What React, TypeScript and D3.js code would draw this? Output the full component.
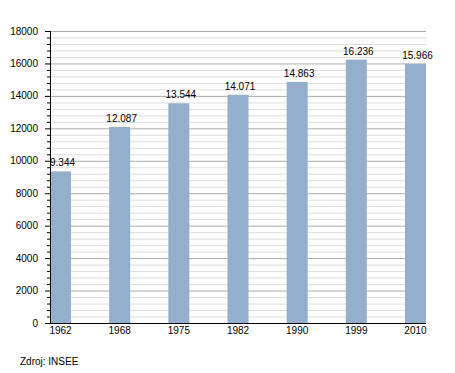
import React, { useEffect, useRef } from 'react';
import * as d3 from 'd3';

const years = ['1962', '1968', '1975', '1982', '1990', '1999', '2010'];
const population = [9344, 12087, 13544, 14071, 14863, 16236, 15966];
const valueLabels = ['9.344', '12.087', '13.544', '14.071', '14.863', '16.236', '15.966'];
const majorTicks = [0, 2000, 4000, 6000, 8000, 10000, 12000, 14000, 16000, 18000];
const sourceNote = 'Zdroj: INSEE';

const App = () => {
  const ref = useRef<SVGSVGElement>(null);

  useEffect(() => {
    const svg = d3.select(ref.current);
    svg.selectAll('*').remove();

    const left = 50;
    const right = 426;
    const top = 31;
    const bottom = 323;
    const font = 'Liberation Sans, Arial, sans-serif';

    const x = d3.scaleBand<string>()
      .domain(years)
      .range([left, right])
      .paddingInner(0.645)
      .paddingOuter(0);

    const y = d3.scaleLinear()
      .domain([0, 18000])
      .range([bottom, top]);

    const minorTicks = d3.range(0, 18001, 400).filter(v => v % 2000 !== 0);

    // grid
    svg.append('g')
      .selectAll('line')
      .data(minorTicks)
      .enter()
      .append('line')
      .attr('x1', left)
      .attr('x2', right)
      .attr('y1', d => y(d) + 0.5)
      .attr('y2', d => y(d) + 0.5)
      .attr('stroke', '#dddddd')
      .attr('stroke-width', 1);

    svg.append('g')
      .selectAll('line')
      .data(majorTicks.filter(v => v > 0))
      .enter()
      .append('line')
      .attr('x1', left)
      .attr('x2', right)
      .attr('y1', d => y(d) + 0.5)
      .attr('y2', d => y(d) + 0.5)
      .attr('stroke', '#aaaaaa')
      .attr('stroke-width', 1);

    // bars
    svg.append('g')
      .selectAll('rect')
      .data(population)
      .enter()
      .append('rect')
      .attr('x', (d, i) => x(years[i]) as number)
      .attr('y', d => y(d))
      .attr('width', x.bandwidth())
      .attr('height', d => bottom - y(d))
      .attr('fill', '#93afcb');

    // value labels
    svg.append('g')
      .selectAll('text')
      .data(population)
      .enter()
      .append('text')
      .attr('x', (d, i) => (x(years[i]) as number) + x.bandwidth() / 2 + 2)
      .attr('y', d => y(d) - 5)
      .attr('text-anchor', 'middle')
      .attr('font-family', font)
      .attr('font-size', 10)
      .attr('fill', '#000')
      .text((d, i) => valueLabels[i]);

    // y axis
    const yAxis = svg.append('g');
    yAxis.append('line')
      .attr('x1', left + 0.5).attr('x2', left + 0.5)
      .attr('y1', top).attr('y2', bottom + 1)
      .attr('stroke', '#000');
    yAxis.selectAll('.minor')
      .data(minorTicks)
      .enter()
      .append('line')
      .attr('x1', left - 3).attr('x2', left)
      .attr('y1', d => y(d) + 0.5).attr('y2', d => y(d) + 0.5)
      .attr('stroke', '#000');
    yAxis.selectAll('.major')
      .data(majorTicks)
      .enter()
      .append('line')
      .attr('x1', left - 5).attr('x2', left)
      .attr('y1', d => y(d) + 0.5).attr('y2', d => y(d) + 0.5)
      .attr('stroke', '#000');
    yAxis.selectAll('text')
      .data(majorTicks)
      .enter()
      .append('text')
      .attr('x', left - 12)
      .attr('y', d => y(d) + 3.5)
      .attr('text-anchor', 'end')
      .attr('font-family', font)
      .attr('font-size', 10)
      .text(d => String(d));

    // x axis
    svg.append('line')
      .attr('x1', left).attr('x2', right)
      .attr('y1', bottom + 0.5).attr('y2', bottom + 0.5)
      .attr('stroke', '#000');
    svg.append('g')
      .selectAll('text')
      .data(years)
      .enter()
      .append('text')
      .attr('x', d => (x(d) as number) + x.bandwidth() / 2)
      .attr('y', bottom + 11)
      .attr('text-anchor', 'middle')
      .attr('font-family', font)
      .attr('font-size', 10)
      .text(d => d);

    svg.append('text')
      .attr('x', 20)
      .attr('y', 365)
      .attr('font-family', font)
      .attr('font-size', 10)
      .text(sourceNote);
  }, []);

  return (
    <svg
      ref={ref}
      width={455}
      height={373}
      style={{ position: 'absolute', left: 0, top: 0, background: '#fff' }}
    />
  );
};

export default App;
